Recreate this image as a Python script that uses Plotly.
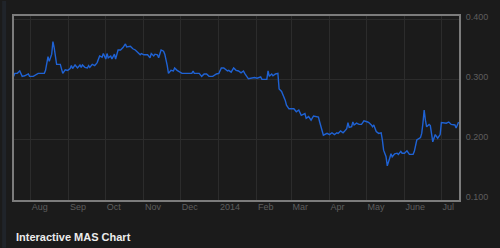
import plotly.graph_objects as go

dates = [
    "2013-07-18", "2013-07-19", "2013-07-21", "2013-07-23", "2013-07-25", "2013-07-27",
    "2013-07-30", "2013-07-31", "2013-08-03", "2013-08-05", "2013-08-07", "2013-08-12",
    "2013-08-13", "2013-08-15", "2013-08-16", "2013-08-18", "2013-08-19", "2013-08-20",
    "2013-08-21", "2013-08-22", "2013-08-25", "2013-08-27", "2013-08-29", "2013-08-31",
    "2013-09-02", "2013-09-03", "2013-09-04", "2013-09-06", "2013-09-08", "2013-09-10",
    "2013-09-11", "2013-09-12", "2013-09-14", "2013-09-16", "2013-09-17", "2013-09-18",
    "2013-09-20", "2013-09-22", "2013-09-24", "2013-09-26", "2013-09-28", "2013-09-29",
    "2013-10-01", "2013-10-02", "2013-10-03", "2013-10-05", "2013-10-06", "2013-10-08",
    "2013-10-09", "2013-10-11", "2013-10-13", "2013-10-15", "2013-10-17", "2013-10-18",
    "2013-10-21", "2013-10-23", "2013-10-25", "2013-10-27", "2013-10-29", "2013-10-30",
    "2013-11-01", "2013-11-04", "2013-11-06", "2013-11-07", "2013-11-09", "2013-11-10",
    "2013-11-12", "2013-11-13", "2013-11-15", "2013-11-17", "2013-11-18", "2013-11-20",
    "2013-11-21", "2013-11-23", "2013-11-25", "2013-11-26", "2013-11-28", "2013-12-02",
    "2013-12-06", "2013-12-10", "2013-12-11", "2013-12-12", "2013-12-16", "2013-12-18",
    "2013-12-20", "2013-12-22", "2013-12-24", "2013-12-27", "2013-12-30", "2014-01-01",
    "2014-01-03", "2014-01-05", "2014-01-08", "2014-01-09", "2014-01-11", "2014-01-13",
    "2014-01-15", "2014-01-17", "2014-01-19", "2014-01-21", "2014-01-22", "2014-01-24",
    "2014-01-25", "2014-01-30", "2014-02-01", "2014-02-04", "2014-02-05", "2014-02-09",
    "2014-02-10", "2014-02-11", "2014-02-13", "2014-02-14", "2014-02-16", "2014-02-18",
    "2014-02-19", "2014-02-21", "2014-02-23", "2014-02-24", "2014-02-25", "2014-02-27",
    "2014-03-03", "2014-03-05", "2014-03-07", "2014-03-09", "2014-03-12", "2014-03-13",
    "2014-03-15", "2014-03-17", "2014-03-19", "2014-03-21", "2014-03-23", "2014-03-24",
    "2014-03-26", "2014-03-27", "2014-03-30", "2014-04-01", "2014-04-03", "2014-04-05",
    "2014-04-07", "2014-04-08", "2014-04-10", "2014-04-12", "2014-04-13", "2014-04-15",
    "2014-04-16", "2014-04-17", "2014-04-19", "2014-04-20", "2014-04-21", "2014-04-23",
    "2014-04-25", "2014-04-27", "2014-04-28", "2014-04-29", "2014-05-02", "2014-05-03",
    "2014-05-05", "2014-05-06", "2014-05-07", "2014-05-09", "2014-05-11", "2014-05-13",
    "2014-05-14", "2014-05-15", "2014-05-17", "2014-05-18", "2014-05-20", "2014-05-21",
    "2014-05-22", "2014-05-24", "2014-05-26", "2014-05-27", "2014-05-29", "2014-05-30",
    "2014-06-01", "2014-06-03", "2014-06-05", "2014-06-08", "2014-06-09", "2014-06-11",
    "2014-06-14", "2014-06-15", "2014-06-16", "2014-06-17", "2014-06-18", "2014-06-19",
    "2014-06-21", "2014-06-22", "2014-06-24", "2014-06-26", "2014-06-28", "2014-06-30",
    "2014-07-01", "2014-07-03", "2014-07-05", "2014-07-07", "2014-07-09", "2014-07-12",
    "2014-07-13", "2014-07-14", "2014-07-15",
]

values = [
    0.306, 0.311, 0.311, 0.315, 0.306, 0.307,
    0.310, 0.306, 0.306, 0.309, 0.311, 0.311,
    0.316, 0.339, 0.331, 0.343, 0.364, 0.354,
    0.342, 0.326, 0.326, 0.311, 0.317, 0.316,
    0.319, 0.324, 0.319, 0.325, 0.320, 0.325,
    0.321, 0.325, 0.321, 0.320, 0.324, 0.321,
    0.326, 0.324, 0.329, 0.340, 0.338, 0.344,
    0.335, 0.344, 0.337, 0.340, 0.335, 0.343,
    0.335, 0.350, 0.350, 0.354, 0.360, 0.355,
    0.356, 0.352, 0.350, 0.346, 0.342, 0.344,
    0.342, 0.342, 0.337, 0.344, 0.340, 0.343,
    0.342, 0.337, 0.350, 0.348, 0.343, 0.324,
    0.311, 0.316, 0.315, 0.320, 0.316, 0.311,
    0.311, 0.311, 0.315, 0.311, 0.311, 0.306,
    0.310, 0.310, 0.306, 0.306, 0.310, 0.311,
    0.320, 0.320, 0.315, 0.316, 0.313, 0.320,
    0.316, 0.315, 0.312, 0.315, 0.311, 0.306,
    0.302, 0.304, 0.303, 0.305, 0.301, 0.301,
    0.315, 0.306, 0.310, 0.307, 0.310, 0.311,
    0.285, 0.281, 0.272, 0.266, 0.258, 0.252,
    0.252, 0.247, 0.250, 0.241, 0.244, 0.236,
    0.239, 0.233, 0.240, 0.239, 0.238, 0.230,
    0.217, 0.208, 0.211, 0.209, 0.212, 0.209,
    0.212, 0.211, 0.215, 0.212, 0.214, 0.219,
    0.229, 0.221, 0.222, 0.230, 0.225, 0.228,
    0.226, 0.226, 0.229, 0.232, 0.230, 0.229,
    0.225, 0.222, 0.225, 0.214, 0.211, 0.212,
    0.200, 0.183, 0.172, 0.157, 0.170, 0.177,
    0.172, 0.177, 0.178, 0.176, 0.181, 0.178,
    0.178, 0.182, 0.176, 0.176, 0.181, 0.200,
    0.204, 0.211, 0.228, 0.250, 0.233, 0.222,
    0.226, 0.224, 0.197, 0.209, 0.203, 0.209,
    0.229, 0.228, 0.228, 0.230, 0.226, 0.225,
    0.220, 0.225, 0.230,
]

month_ticks = [
    "2013-08-01", "2013-09-01", "2013-10-01", "2013-11-01", "2013-12-01", "2014-01-01",
    "2014-02-01", "2014-03-01", "2014-04-01", "2014-05-01", "2014-06-01", "2014-07-01",
]
month_labels = ["Aug", "Sep", "Oct", "Nov", "Dec", "2014", "Feb", "Mar", "Apr", "May", "June", "Jul"]

y_ticks = [0.1, 0.2, 0.3, 0.4]

BG = "#1b1b1b"
GRID = "#2c2c2c"
BORDER = "#7c7c7c"
LABEL = "#5e5e5e"

fig = go.Figure()
fig.add_trace(go.Scatter(
    x=dates, y=values, mode="lines",
    line=dict(color="#1f62d4", width=1.4),
    hoverinfo="x+y",
))

fig.update_layout(
    width=500, height=248,
    margin=dict(l=12, r=37, t=15, b=48),
    paper_bgcolor=BG, plot_bgcolor=BG,
    showlegend=False,
    font=dict(family="Liberation Sans, Arial, sans-serif", size=9, color=LABEL),
    xaxis=dict(
        type="date",
        range=["2013-07-18 08:00", "2014-07-15 08:00"],
        tickvals=month_ticks, ticktext=month_labels,
        ticklabelposition="outside right",
        ticklabelstandoff=-3,
        showgrid=True, gridcolor=GRID, gridwidth=1,
        showline=True, linecolor=BORDER, linewidth=2, mirror=True,
        ticks="", zeroline=False,
        tickfont=dict(size=9, color=LABEL),
    ),
    yaxis=dict(
        side="right",
        range=[0.1, 0.4066],
        tickvals=y_ticks, tickformat=".3f",
        ticklabelstandoff=3,
        ticklabelshift=-3,
        showgrid=True, gridcolor=GRID, gridwidth=1,
        showline=True, linecolor=BORDER, linewidth=2, mirror=True,
        ticks="", zeroline=False,
        tickfont=dict(size=9, color=LABEL),
    ),
    shapes=[dict(
        type="rect", xref="paper", yref="paper",
        x0=-12 / 451, x1=-8 / 451, y0=-48 / 185, y1=1 + 15 / 185,
        fillcolor="#20242a", line=dict(width=0), layer="below",
    )],
    annotations=[dict(
        text="<b>Interactive MAS Chart</b>",
        xref="paper", yref="paper",
        x=0, y=-37 / 185, xanchor="left", yanchor="middle",
        showarrow=False,
        font=dict(family="Liberation Sans, Arial, sans-serif", size=11, color="#ececec"),
    )],
)

fig.write_html("out.html")
